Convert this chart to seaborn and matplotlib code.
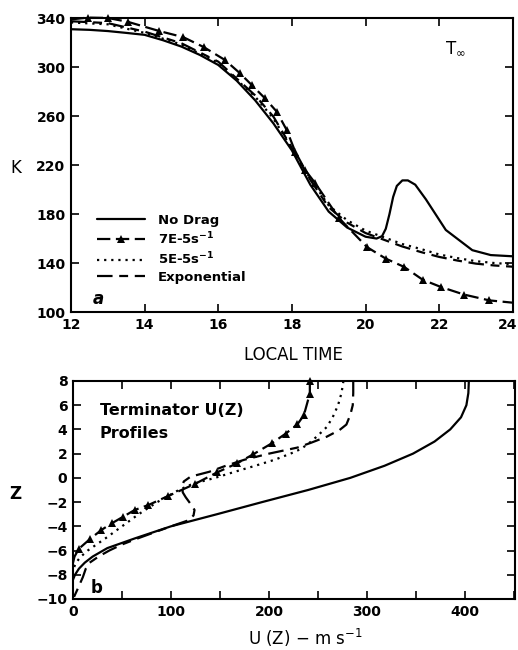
import numpy as np
import pandas as pd
import matplotlib
matplotlib.use("Agg")
import matplotlib.pyplot as plt
import matplotlib.transforms as mtransforms
import seaborn as sns

# ---------------- data: panel a (T_inf vs local time) ----------------
t_nodrag = [12, 12.5, 13, 13.5, 14, 14.5, 15, 15.5, 16, 16.5, 17, 17.5, 18, 18.5, 19, 19.5,
            20, 20.3, 20.45, 20.55, 20.65, 20.75, 20.85, 21.0, 21.15, 21.35, 21.64, 22.18,
            22.9, 23.4, 24]
k_nodrag = [331, 330.5, 329.5, 328, 326.4, 322, 316.8, 310, 301.8, 289, 273, 254, 232, 204,
            182, 169, 161.5, 160, 162, 168, 180, 194, 203, 207.5, 207.5, 204, 192, 167,
            150.5, 146.5, 145.5]

t_7e5 = [12, 12.46, 13.0, 13.55, 14.4, 15.05, 15.6, 16.18, 16.59, 16.91, 17.27, 17.59, 17.86,
         18.09, 18.36, 18.64, 19.27, 20.04, 20.55, 21.05, 21.55, 22.05, 22.68, 23.36, 24]
k_7e5 = [339, 340.5, 340.2, 337, 329.5, 324.5, 316.5, 305.9, 295, 285.4, 274.5, 263.6, 248.6,
         231, 216, 205, 177, 153, 143.6, 136.8, 126.4, 120.4, 114.2, 109.5, 107.6]

t_5e5 = [12, 13, 14, 15, 16, 17, 17.5, 18, 18.5, 19, 19.5, 20, 20.5, 21, 21.5, 22, 22.5, 23,
         23.5, 24]
k_5e5 = [336.5, 335, 328, 318.5, 303.5, 276, 258, 233.5, 209, 187, 175, 166.5, 161, 155.5,
         151.5, 147, 144, 141.5, 140, 139]

t_exp = [12, 13, 14, 15, 16, 17, 17.5, 18, 18.5, 19, 19.5, 20, 20.5, 21, 21.5, 22, 22.5, 23,
         23.5, 24]
k_exp = [337.5, 336, 329, 319.5, 304.5, 277, 259.5, 234, 208, 185.5, 173, 164.5, 159, 153.5,
         149, 145, 142, 139.5, 138, 137]

# ---------------- data: panel b (terminator U(Z) profiles) ----------------
z_nodrag = [8, 7, 6, 5, 4, 3, 2, 1, 0, -1, -2, -3, -4, -5, -5.8, -6.5, -7, -7.5, -8, -8.4]
u_nodrag = [404, 403.5, 401.5, 396, 385, 369, 347, 318, 283, 240, 193, 147, 100, 63, 35, 20,
            12, 6, 2, 0]

z_7e5 = [8.0, 6.96, 5.17, 4.43, 3.66, 2.84, 1.94, 1.2, 0.45, -0.5, -1.52, -2.24, -2.65, -3.2,
         -3.76, -4.3, -5.05, -5.85, -6.5, -7.0]
u_7e5 = [241.7, 241.7, 235.6, 229.1, 217.2, 202.6, 183.8, 167.5, 147, 124.5, 96.5, 77, 63,
         51.3, 39.4, 29, 17.3, 6, 1.5, 0]

z_5e5 = [8, 7, 6, 5, 4.2, 3.5, 3.0, 2.4, 2.0, 1.5, 1.0, 0.5, 0, -0.5, -1, -2, -3, -4, -5, -6,
         -6.5, -7, -7.6]
u_5e5 = [276, 274, 270.5, 265, 259, 250, 243, 233, 222, 206, 186, 165, 145, 122, 108, 86, 67,
         50, 33, 15, 8, 3, 0]

z_exp = [8, 7, 6, 5.2, 4.4, 3.95, 3.4, 2.9, 2.5, 2.0, 1.5, 1.0, 0.5, 0.1, -0.3, -0.75, -1.2,
         -1.6, -2.1, -2.65, -3.1, -3.5, -4.0, -4.5, -5, -5.5, -6, -6.5, -7, -7.5, -8.2, -9.3,
         -10]
u_exp = [286, 286, 285.5, 283, 279, 272, 259, 243, 229, 200, 175, 156, 139, 120, 113, 111.5,
         112, 115, 119.5, 124, 123, 118, 100, 83, 66, 50, 37, 26, 17, 13, 10, 4, 0]

labels = ["No Drag", "7E-5s$^{-1}$", "5E-5s$^{-1}$", "Exponential"]

# ---------------- style ----------------
sns.set_style("ticks")
plt.rcParams["font.family"] = ["DejaVu Sans"]
plt.rcParams["mathtext.default"] = "regular"
plt.rcParams["axes.linewidth"] = 1.5
for key in ["text.color", "axes.labelcolor", "xtick.color", "ytick.color", "axes.edgecolor"]:
    plt.rcParams[key] = "black"

fig = plt.figure(figsize=(5.18, 6.5), dpi=100)
ax1 = fig.add_axes([0.137, 0.520, 0.853, 0.452])
ax2 = fig.add_axes([0.141, 0.0785, 0.853, 0.3354])

lw = 1.6
sty_tri = dict(color="black", lw=lw, linestyle=(0, (6, 2.5)), marker="^", markersize=5.5,
               markeredgewidth=0)
sty_dot = dict(color="black", lw=lw, linestyle=(0, (1, 2.2)))
sty_exp = dict(color="black", lw=lw, linestyle=(0, (7, 3, 4, 3)))
sty_sol = dict(color="black", lw=lw, linestyle="-")

# panel a
sns.lineplot(x=t_nodrag, y=k_nodrag, ax=ax1, sort=False, estimator=None, label=labels[0], **sty_sol)
sns.lineplot(x=t_7e5, y=k_7e5, ax=ax1, sort=False, estimator=None, label=labels[1],
             markevery=list(range(1, len(t_7e5) - 1)), clip_on=False, **sty_tri)
sns.lineplot(x=t_5e5, y=k_5e5, ax=ax1, sort=False, estimator=None, label=labels[2], **sty_dot)
sns.lineplot(x=t_exp, y=k_exp, ax=ax1, sort=False, estimator=None, label=labels[3], **sty_exp)

ax1.set_xlim(12, 24)
ax1.set_ylim(100, 340)
ax1.set_xticks(range(12, 25, 2))
ax1.set_yticks(range(100, 341, 40))
ax1.set_xlabel("")
ax1.set_ylabel("")
ax1.tick_params(direction="in", top=True, right=True, length=6, width=1.2,
                labelsize=10, pad=4)
for lab in ax1.get_xticklabels() + ax1.get_yticklabels():
    lab.set_fontweight("bold")
# nudge the last time label so it stays inside the figure
last = ax1.get_xticklabels()[-1]
last.set_transform(last.get_transform() +
                   mtransforms.ScaledTranslation(-5 / 100, 0, fig.dpi_scale_trans))

leg = ax1.legend(loc="upper left", bbox_to_anchor=(0.059, 0.335), frameon=False,
                 borderaxespad=0, borderpad=0, handlelength=3.6, handletextpad=1.0,
                 labelspacing=0.28, fontsize=9.5)
for txt in leg.get_texts():
    txt.set_fontweight("bold")

ax1.text(22.43, 315.5, r"T$_\infty$", fontsize=12, ha="center", va="center")
ax1.text(12.73, 111, "a", fontsize=12, fontweight="bold", style="italic",
         ha="center", va="center")

# panel b
sns.lineplot(x=u_nodrag, y=z_nodrag, ax=ax2, sort=False, estimator=None, **sty_sol)
sns.lineplot(x=u_7e5, y=z_7e5, ax=ax2, sort=False, estimator=None,
             markevery=list(range(0, len(u_7e5) - 2)), clip_on=False, **sty_tri)
sns.lineplot(x=u_5e5, y=z_5e5, ax=ax2, sort=False, estimator=None, **sty_dot)
sns.lineplot(x=u_exp, y=z_exp, ax=ax2, sort=False, estimator=None, **sty_exp)

ax2.set_xlim(0, 451)
ax2.set_ylim(-10, 8)
ax2.set_xticks(range(0, 451, 50))
ax2.set_xticklabels([str(v) if v % 100 == 0 else "" for v in range(0, 451, 50)])
ax2.set_yticks(range(-10, 9, 2))
ax2.set_xlabel("")
ax2.set_ylabel("")
ax2.tick_params(direction="in", top=True, right=True, length=6, width=1.2,
                labelsize=10, pad=4)
for lab in ax2.get_xticklabels() + ax2.get_yticklabels():
    lab.set_fontweight("bold")

ax2.text(27.5, 5.6, "Terminator U(Z)", fontsize=11.5, fontweight="bold", ha="left", va="center")
ax2.text(27.5, 3.7, "Profiles", fontsize=11.5, fontweight="bold", ha="left", va="center")
ax2.text(24.5, -9.1, "b", fontsize=12, fontweight="bold", ha="center", va="center")

# axis labels as figure text
W, H = 518, 650
fig.text(16 / W, 1 - 168 / H, "K", fontsize=12, ha="center", va="center")
fig.text(293 / W, 1 - 355 / H, "LOCAL TIME", fontsize=12, ha="center", va="center")
fig.text(15 / W, 1 - 494 / H, "Z", fontsize=12, fontweight="bold", ha="center", va="center")
fig.text(305 / W, 1 - 638 / H, "U (Z) \u2212 m s$^{-1}$", fontsize=12, ha="center", va="center")

fig.savefig("out.png", dpi=100)
